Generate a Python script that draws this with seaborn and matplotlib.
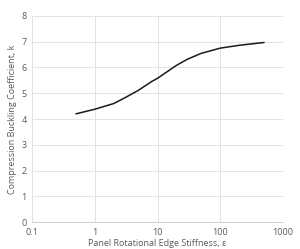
import numpy as np
import pandas as pd
import matplotlib
matplotlib.use("Agg")
import matplotlib.pyplot as plt
import seaborn as sns

# panel rotational edge stiffness vs compression buckling coefficient
stiffness = [0.5, 1, 2, 3, 5, 8, 10, 20, 30, 50, 100, 200, 500]
k_coef = [4.2, 4.38, 4.6, 4.82, 5.12, 5.45, 5.58, 6.08, 6.32, 6.55, 6.75, 6.86, 6.97]

df = pd.DataFrame({"eps": stiffness, "k": k_coef})

sns.set_style("white")
plt.rcParams['font.family'] = ['Open Sans', 'DejaVu Sans']

fig = plt.figure(figsize=(3.0, 2.49), dpi=100)
ax = fig.add_axes([0.107, 0.108, 0.836, 0.828])

sns.lineplot(data=df, x="eps", y="k", ax=ax, color="#1a1a1a", linewidth=1.1)

ax.set_xscale("log")
ax.set_xlim(0.1, 1000)
ax.set_ylim(0, 8)
ax.set_xticks([0.1, 1, 10, 100, 1000])
ax.set_xticklabels(["0.1", "1", "10", "100", "1000"])
ax.set_yticks(range(0, 9))
ax.minorticks_off()

ax.grid(True, color="#e3e3e3", linewidth=0.7)
for s in ["top", "right", "left"]:
    ax.spines[s].set_visible(False)
ax.spines["bottom"].set_color("#d0d0d0")
ax.spines["bottom"].set_linewidth(0.7)

ax.tick_params(axis="both", length=0, labelsize=6.5, colors="#595959", pad=4)
ax.set_xlabel("Panel Rotational Edge Stiffness, \u03b5", fontsize=6.5, color="#595959", labelpad=2)
ax.set_ylabel("Compression Buckling Coefficient, k", fontsize=6.5, color="#595959", labelpad=3)

fig.savefig("out.png", dpi=100)
